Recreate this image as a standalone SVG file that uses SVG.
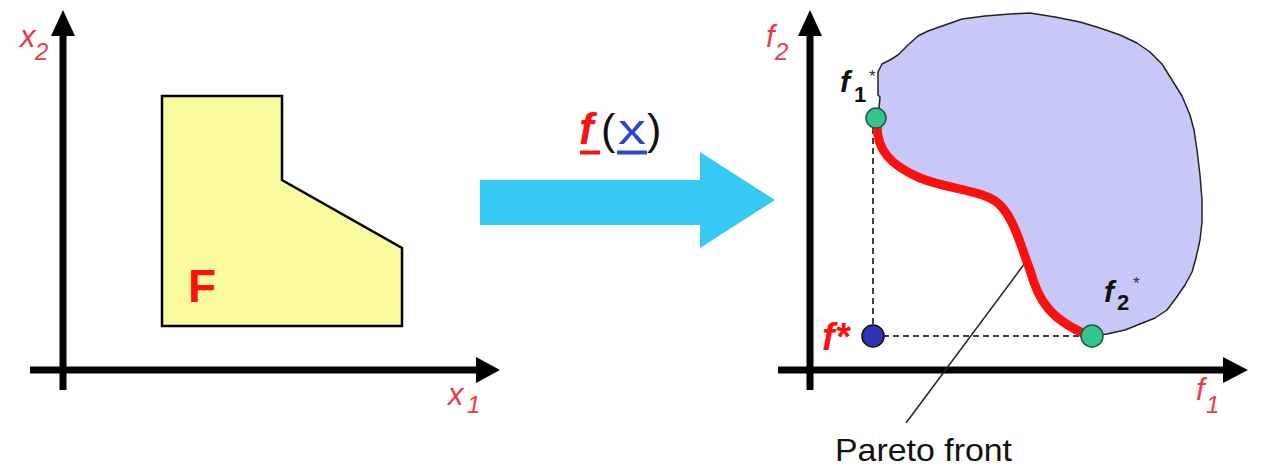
<svg xmlns="http://www.w3.org/2000/svg" width="1263" height="469" viewBox="0 0 1263 469">
<style>
.axis{stroke:#000;stroke-width:7;fill:none}
.ah{fill:#000}
.lbl{font-family:"Liberation Sans",Arial,sans-serif;fill:#ee3a45;font-style:italic}
.blk{font-family:"Liberation Sans",Arial,sans-serif;fill:#111;font-weight:bold}
.dash{stroke:#000;stroke-width:1.5;stroke-dasharray:6 4;fill:none}
.pt{stroke:#1a5a3a;stroke-width:1.5;fill:#36c48e}
</style>
<rect width="1263" height="469" fill="#ffffff"/>
<g id="left-axes">
<line class="axis" x1="63" y1="390" x2="63" y2="32"/>
<polygon class="ah" points="63,10 51,36 75,36"/>
<line class="axis" x1="30" y1="370" x2="478" y2="370"/>
<polygon class="ah" points="500,370 476,357 476,383"/>
<text class="lbl" x="20" y="47" font-size="31">x</text>
<text class="lbl" x="35" y="60" font-size="24" font-style="normal">2</text>
<text class="lbl" x="448" y="405" font-size="31">x</text>
<text class="lbl" x="467" y="413" font-size="24" font-style="normal">1</text>
</g>
<g id="feasible-set">
<polygon points="162,96 282,96 282,180 402,248 402,326 162,326" fill="#fafa9e" stroke="#000" stroke-width="2.5"/>
<text x="188" y="302" font-family="Liberation Sans,Arial,sans-serif" font-weight="bold" font-size="46" fill="#ff1010">F</text>
</g>
<g id="mapping-arrow">
<polygon points="480,180 700,180 700,152 775,200 700,248 700,225 480,225" fill="#38c8f4"/>
<text x="579" y="144" font-family="Liberation Sans,Arial,sans-serif" font-size="44" font-weight="bold" font-style="italic" fill="#ff1010">f</text>
<text x="601" y="144" font-family="Liberation Sans,Arial,sans-serif" font-size="43" fill="#111">(</text>
<text x="618" y="144" font-family="Liberation Sans,Arial,sans-serif" font-size="42" fill="#3344cc" textLength="28" lengthAdjust="spacingAndGlyphs">x</text>
<text x="647" y="144" font-family="Liberation Sans,Arial,sans-serif" font-size="43" fill="#111">)</text>
<line x1="580" y1="152.5" x2="600" y2="152.5" stroke="#ff1010" stroke-width="4"/>
<line x1="617" y1="152.5" x2="647" y2="152.5" stroke="#3344cc" stroke-width="4"/>
</g>
<g id="right-axes">
<line class="axis" x1="810" y1="390" x2="810" y2="32"/>
<polygon class="ah" points="810,10 798,36 822,36"/>
<line class="axis" x1="778" y1="370" x2="1226" y2="370"/>
<polygon class="ah" points="1248,370 1223,357 1223,383"/>
<text class="lbl" x="766" y="47" font-size="31">f</text>
<text class="lbl" x="775" y="60" font-size="24" font-style="normal">2</text>
<text class="lbl" x="1196" y="400" font-size="31">f</text>
<text class="lbl" x="1206" y="413" font-size="24" font-style="normal">1</text>
</g>
<g id="objective-region">
<path d="M876,118 L879,108 L880,97 L878,95 L878,88 L878,72 L882,64 L890,60 L898,55 L908,45 L918,36 L928,31 L945,25 L962,19 L985,16 L1010,14 L1030,13 L1055,17 L1080,22 L1100,28 L1120,35 L1137,43 L1150,52 L1162,64 L1172,80 L1182,96 L1190,115 L1194,130 L1197,150 L1200,175 L1202,200 L1202,222 L1200,240 L1196,258 L1192,272 L1185,285 L1176,298 L1167,310 L1155,318 L1140,324 L1125,330 L1107,334 L1092,336 C1050,320 1038,300 1030,270 C1022,250 1015,220 1000,205 C985,190 950,190 920,178 C890,165 877,150 877,125 Z" fill="#c8c8f8" stroke="#222" stroke-width="1.5" stroke-linejoin="round"/>
</g>
<g id="connectors">
<line class="dash" x1="873" y1="128" x2="873" y2="336"/>
<line class="dash" x1="873" y1="336" x2="1090" y2="336"/>
<line x1="1025" y1="263" x2="906" y2="423" stroke="#222" stroke-width="1.5"/>
</g>
<g id="pareto-front">
<path d="M877,125 C877,150 890,165 920,178 C950,190 985,190 1000,205 C1015,220 1022,250 1030,270 C1038,300 1050,320 1090,336" fill="none" stroke="#ff1010" stroke-width="9" stroke-linecap="round"/>
<text x="835" y="461" font-family="Liberation Sans,Arial,sans-serif" font-size="32" fill="#111" textLength="177" lengthAdjust="spacingAndGlyphs">Pareto front</text>
</g>
<g id="f1-star">
<circle class="pt" cx="876" cy="118" r="10"/>
<text class="blk" x="840" y="92" font-size="30" font-style="italic">f</text>
<text class="blk" x="854" y="102" font-size="22">1</text>
<text x="869" y="82" font-family="Liberation Sans,Arial,sans-serif" font-size="17" fill="#333">*</text>
</g>
<g id="f2-star">
<circle class="pt" cx="1092" cy="336" r="11"/>
<text class="blk" x="1104" y="302" font-size="30" font-style="italic">f</text>
<text class="blk" x="1117" y="310" font-size="22">2</text>
<text x="1133" y="289" font-family="Liberation Sans,Arial,sans-serif" font-size="17" fill="#333">*</text>
</g>
<g id="f-star">
<circle cx="873" cy="336" r="11" fill="#2a35b8" stroke="#111" stroke-width="1.5"/>
<text x="822" y="350" font-family="Liberation Sans,Arial,sans-serif" font-size="38" font-weight="bold" font-style="italic" fill="#ff1010">f*</text>
</g>
</svg>
